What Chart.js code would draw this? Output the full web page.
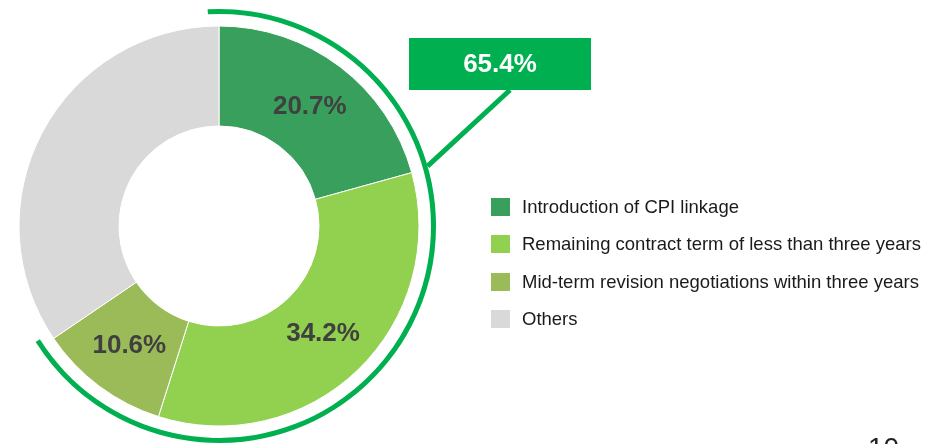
<!DOCTYPE html>
<html lang="en">
<head>
  <meta charset="UTF-8">
  <title>CPI linkage share</title>
  <script src="https://cdn.jsdelivr.net/npm/chart.js"></script>
</head>
<style>
  html, body {
    margin: 0;
    padding: 0;
    background: #fff;
    overflow: hidden;
    font-family: "Liberation Sans", Arial, sans-serif;
  }
  .wrap {
    position: relative;
    width: 926px;
    height: 444px;
  }
  #shareChart {
    position: absolute;
    left: 0;
    top: 0;
  }
  .legend {
    position: absolute;
    left: 491px;
    top: 188px;
  }
  .legend-item {
    display: flex;
    align-items: center;
    height: 37.5px;
    font-size: 18.5px;
    color: #1a1a1a;
    white-space: nowrap;
  }
  .swatch {
    width: 19px;
    height: 18px;
    margin-right: 12px;
    flex: none;
  }
  .page-no {
    position: absolute;
    left: 868px;
    top: 434px;
    font-size: 28px;
    line-height: 28px;
    color: #222;
  }
</style>
<body>

<div class="wrap">
  <canvas id="shareChart" width="926" height="444"></canvas>
  <div class="legend" id="legend"></div>
  <div class="page-no">10</div>
</div>

<script>
  // Data
  const categories = [
    'Introduction of CPI linkage',
    'Remaining contract term of less than three years',
    'Mid-term revision negotiations within three years',
    'Others'
  ];
  const shares = [20.7, 34.2, 10.6, 34.5];
  const sliceColors = ['#389F5D', '#92D050', '#9BBB59', '#D9D9D9'];
  const labelled = [true, true, true, false];

  // the green bracket covers the first three slices (as printed on the chart)
  const bracketShare = 65.4;
  const bracketData = [bracketShare, 100 - bracketShare];
  const accent = '#00B050';

  // Build the legend
  const legendEl = document.getElementById('legend');
  categories.forEach((name, i) => {
    const row = document.createElement('div');
    row.className = 'legend-item';
    row.innerHTML = `<span class="swatch" style="background:${sliceColors[i]}"></span><span>${name}</span>`;
    legendEl.appendChild(row);
  });

  // Slice labels + callout box
  const annotate = {
    id: 'annotate',
    afterDatasetsDraw(chart) {
      const ctx = chart.ctx;
      const main = chart.getDatasetMeta(2);
      ctx.save();
      ctx.font = 'bold 26px "Liberation Sans", Arial, sans-serif';
      ctx.fillStyle = '#404040';
      ctx.textAlign = 'center';
      ctx.textBaseline = 'middle';
      main.data.forEach((arc, i) => {
        if (!labelled[i]) return;
        const p = arc.tooltipPosition();
        ctx.fillText(shares[i].toFixed(1) + '%', p.x, p.y);
      });

      // leader line from the bracket up to the box
      const ring = chart.getDatasetMeta(0).data[0];
      const a = 74 * Math.PI / 180;
      const r = ring.outerRadius;
      const sx = ring.x + r * Math.sin(a);
      const sy = ring.y - r * Math.cos(a);
      const box = { x: 409, y: 38, w: 182, h: 52 };
      ctx.strokeStyle = accent;
      ctx.lineWidth = 5;
      ctx.beginPath();
      ctx.moveTo(sx, sy);
      ctx.lineTo(510, box.y + box.h);
      ctx.stroke();

      ctx.fillStyle = accent;
      ctx.fillRect(box.x, box.y, box.w, box.h);
      ctx.fillStyle = '#fff';
      ctx.font = 'bold 26px "Liberation Sans", Arial, sans-serif';
      ctx.fillText(bracketShare.toFixed(1) + '%', box.x + box.w / 2, box.y + box.h / 2 + 1);
      ctx.restore();
    }
  };

  const shareCtx = document.getElementById('shareChart').getContext('2d');
  const shareChart = new Chart(shareCtx, {
    type: 'doughnut',
    data: {
      labels: categories,
      datasets: [
        {
          // outer bracket
          data: bracketData,
          backgroundColor: [accent, 'rgba(0,0,0,0)'],
          borderWidth: 0,
          weight: 5,
          rotation: -3,
          circumference: 368
        },
        {
          // white gap
          data: [1],
          backgroundColor: ['rgba(0,0,0,0)'],
          borderWidth: 0,
          weight: 12
        },
        {
          data: shares,
          backgroundColor: sliceColors,
          borderColor: '#ffffff',
          borderWidth: 1,
          weight: 100
        }
      ]
    },
    options: {
      responsive: false,
      animation: false,
      events: [],
      radius: 217,
      cutout: '46.08%',
      layout: { padding: { top: 8, right: 488, left: 0, bottom: 0 } },
      plugins: {
        legend: { display: false },
        tooltip: { enabled: false }
      }
    },
    plugins: [annotate]
  });
</script>
</body>
</html>
